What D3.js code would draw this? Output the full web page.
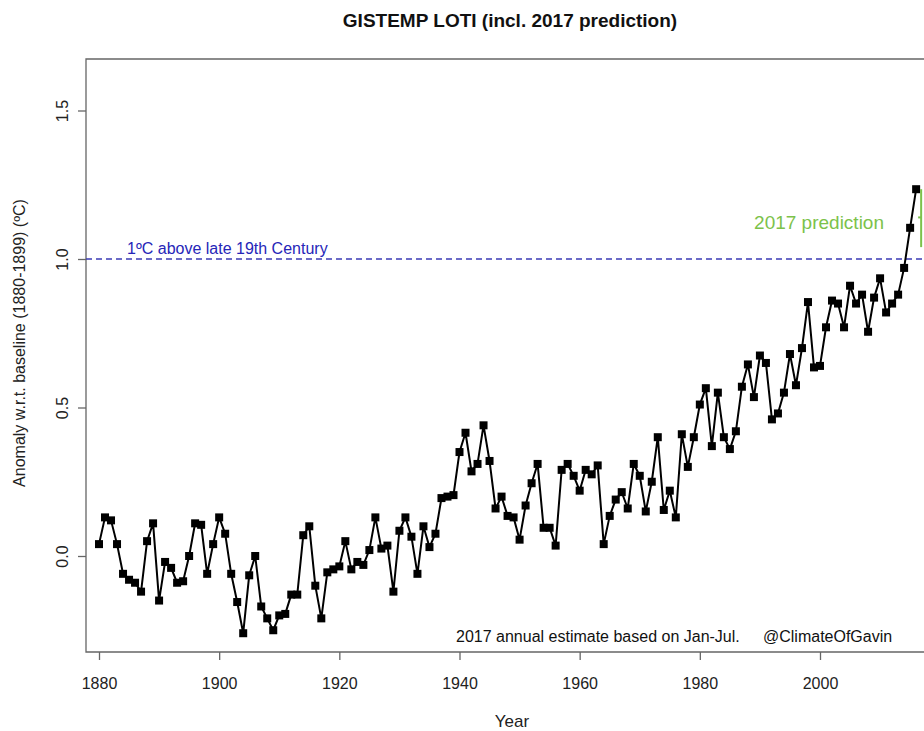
<!DOCTYPE html>
<html>
<head>
<meta charset="utf-8">
<script src="https://cdn.jsdelivr.net/npm/d3@7"></script>
<style>
  body { margin: 0; background: #fff; }
  svg { display: block; }
</style>
</head>
<body>
<div class="chart"></div>
<script>
var startYear = 1880;
var anomaly = [
  0.04, 0.13, 0.12, 0.04, -0.06, -0.08, -0.09, -0.12, 0.05, 0.11,
  -0.15, -0.02, -0.04, -0.09, -0.085, 0.0, 0.11, 0.105, -0.06, 0.04,
  0.13, 0.075, -0.06, -0.155, -0.26, -0.065, 0.0, -0.17, -0.21, -0.25,
  -0.2, -0.195, -0.13, -0.13, 0.07, 0.10, -0.10, -0.21, -0.055, -0.045,
  -0.035, 0.05, -0.045, -0.02, -0.03, 0.02, 0.13, 0.025, 0.035, -0.12,
  0.085, 0.13, 0.065, -0.06, 0.10, 0.03, 0.075, 0.195, 0.20, 0.205,
  0.35, 0.415, 0.285, 0.31, 0.44, 0.32, 0.16, 0.20, 0.135, 0.13,
  0.055, 0.17, 0.245, 0.31, 0.095, 0.095, 0.035, 0.29, 0.31, 0.27,
  0.22, 0.29, 0.275, 0.305, 0.04, 0.135, 0.19, 0.215, 0.16, 0.31,
  0.27, 0.15, 0.25, 0.40, 0.155, 0.22, 0.13, 0.41, 0.30, 0.40,
  0.51, 0.565, 0.37, 0.55, 0.40, 0.36, 0.42, 0.57, 0.645, 0.535,
  0.675, 0.65, 0.46, 0.48, 0.55, 0.68, 0.575, 0.70, 0.855, 0.635,
  0.64, 0.77, 0.86, 0.85, 0.77, 0.91, 0.85, 0.88, 0.755, 0.87,
  0.935, 0.82, 0.85, 0.88, 0.97, 1.105, 1.235
];
var years = anomaly.map(function (d, i) { return startYear + i; });

// 2017 prediction (mostly cut off at the right edge)
var predYear = [2017];
var predRange = [1.04, 1.14, 1.235];

var xTicks = [1880, 1900, 1920, 1940, 1960, 1980, 2000];
var yTicks = [0.0, 0.5, 1.0, 1.5];
var threshold = [1.0];

var width = 924, height = 731;
var boxLeft = 86, boxTop = 59, boxBottom = 652;

var svg = d3.select(".chart")
    .append("svg")
    .attr("width", width)
    .attr("height", height)
    .style("font-family", "'Liberation Sans', Arial, sans-serif")

var x = d3.scaleLinear().domain([1880, 2000]).range([99, 820]);
var y = d3.scaleLinear().domain([0, 1]).range([556, 259]);

// title
svg.append("text")
    .attr("x", 510)
    .attr("y", 27)
    .attr("text-anchor", "middle")
    .style("font-size", "19px")
    .style("font-weight", "bold")
    .attr("fill", "#111")
    .text("GISTEMP LOTI (incl. 2017 prediction)")

// plot box (right side runs past the edge)
svg.append("path")
    .attr("d", "M940," + boxTop + "H" + boxLeft + "V" + boxBottom + "H940")
    .attr("fill", "none")
    .style("stroke", "#666")
    .style("stroke-width", 1.3)

// x axis
var xAxis = svg.append("g")
    .attr("transform", "translate(0," + boxBottom + ")")
    .call(d3.axisBottom(x).tickValues(xTicks).tickFormat(d3.format("d")).tickSize(8).tickSizeOuter(0))
xAxis.select(".domain").remove()
xAxis.selectAll("line").style("stroke", "#666").style("stroke-width", 1.3)
xAxis.selectAll("text")
    .attr("y", 26)
    .style("font-size", "16px")
    .style("font-family", "'Liberation Sans', Arial, sans-serif")
    .attr("fill", "#222")

// y axis
var yAxis = svg.append("g")
    .attr("transform", "translate(" + boxLeft + ",0)")
    .call(d3.axisLeft(y).tickValues(yTicks).tickFormat(d3.format(".1f")).tickSize(8).tickSizeOuter(0))
yAxis.select(".domain").remove()
yAxis.selectAll("line").style("stroke", "#666").style("stroke-width", 1.3)
yAxis.selectAll("text")
    .attr("x", 0)
    .attr("dy", 0)
    .attr("transform", "translate(-18,0) rotate(-90)")
    .attr("text-anchor", "middle")
    .style("font-size", "16px")
    .style("font-family", "'Liberation Sans', Arial, sans-serif")
    .attr("fill", "#222")

// axis titles
svg.append("text")
    .attr("x", 512)
    .attr("y", 727)
    .attr("text-anchor", "middle")
    .style("font-size", "17px")
    .attr("fill", "#222")
    .text("Year")

svg.append("text")
    .attr("transform", "translate(25,343) rotate(-90)")
    .attr("text-anchor", "middle")
    .style("font-size", "16px")
    .attr("fill", "#222")
    .text("Anomaly w.r.t. baseline (1880-1899) (ºC)")

// 1 degree line
svg.selectAll(".thresh")
    .data(threshold)
    .enter().append("line")
    .attr("x1", boxLeft)
    .attr("x2", width)
    .attr("y1", function (d) { return y(d); })
    .attr("y2", function (d) { return y(d); })
    .style("stroke", "#3b3bb5")
    .style("stroke-width", 1.3)
    .style("stroke-dasharray", "6,4")

svg.append("text")
    .attr("x", 127)
    .attr("y", y(1) - 5)
    .style("font-size", "16px")
    .attr("fill", "#2626b8")
    .text("1ºC above late 19th Century")

// series line
var line = d3.line()
    .x(function (d, i) { return x(years[i]); })
    .y(function (d) { return y(d); })

svg.append("path")
    .datum(anomaly)
    .attr("d", line)
    .attr("fill", "none")
    .style("stroke", "#000")
    .style("stroke-width", 2)

svg.selectAll(".pt")
    .data(anomaly)
    .enter().append("rect")
    .attr("x", function (d, i) { return x(years[i]) - 4; })
    .attr("y", function (d) { return y(d) - 4; })
    .attr("width", 8)
    .attr("height", 8)
    .attr("fill", "#000")

// 2017 prediction bar
var px = x(predYear[0]) - 1;
svg.append("line")
    .attr("x1", px)
    .attr("x2", px)
    .attr("y1", y(predRange[0]))
    .attr("y2", y(predRange[2]))
    .style("stroke", "#7cc24a")
    .style("stroke-width", 2)

svg.append("line")
    .attr("x1", px - 3)
    .attr("x2", px)
    .attr("y1", y(predRange[1]))
    .attr("y2", y(predRange[1]))
    .style("stroke", "#7cc24a")
    .style("stroke-width", 2)

svg.append("text")
    .attr("x", 884)
    .attr("y", 229)
    .attr("text-anchor", "end")
    .style("font-size", "19px")
    .attr("fill", "#7cc24a")
    .text("2017 prediction")

// footnote
svg.append("text")
    .attr("x", 456)
    .attr("y", 642)
    .style("font-size", "16px")
    .attr("fill", "#111")
    .text("2017 annual estimate based on Jan-Jul.")

svg.append("text")
    .attr("x", 763)
    .attr("y", 642)
    .style("font-size", "16px")
    .attr("fill", "#111")
    .text("@ClimateOfGavin")
</script>
</body>
</html>
